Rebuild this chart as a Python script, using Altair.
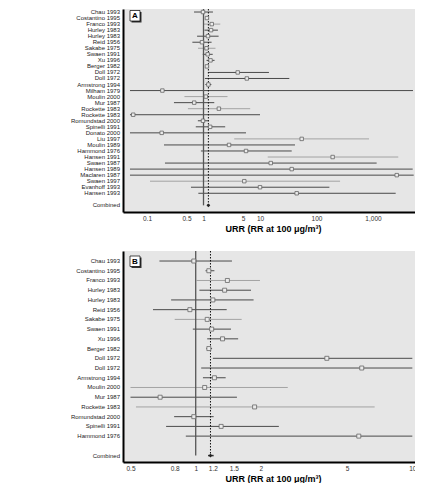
import altair as alt
import pandas as pd

# ---- data ----
names = ["Chau 1993", "Costantino 1995", "Franco 1993", "Hurley 1983", "Hurley 1983",
         "Reid 1956", "Sakabe 1975", "Swaen 1991", "Xu 1996", "Berger 1982",
         "Doll 1972", "Doll 1972", "Armstrong 1994", "Milham 1979", "Moulin 2000",
         "Mur 1987", "Rockette 1983", "Rockette 1983", "Romundstad 2000", "Spinelli 1991",
         "Donato 2000", "Liu 1997", "Moulin 1989", "Hammond 1976", "Hansen 1991",
         "Swaen 1987", "Hansen 1989", "Maclaren 1987", "Swaen 1997", "Evanhoff 1993",
         "Hansen 1993"]
est = [0.98, 1.15, 1.40, 1.36, 1.20, 0.94, 1.13, 1.185, 1.33, 1.15,
       4.03, 5.84, 1.22, 0.187, 1.10, 0.685, 1.87, 0.057, 0.98, 1.31,
       0.182, 54.7, 2.83, 5.66, 193, 15.5, 36.4, 2630, 5.27, 10.0, 44.6]
lo = [0.68, 1.11, 1.01, 1.04, 0.77, 0.635, 0.80, 0.97, 1.13, 1.12,
      1.20, 1.06, 1.08, 0.05, 0.46, 0.30, 0.53, 0.05, 0.795, 0.73,
      0.05, 3.5, 0.20, 0.90, 13.7, 0.208, 0.05, 0.05, 0.113, 0.60, 0.81]
hi = [1.47, 1.22, 1.98, 1.80, 1.85, 1.39, 1.63, 1.455, 1.57, 1.19,
      14.4, 33.0, 1.375, 5100, 2.66, 1.55, 6.7, 10.0, 1.21, 2.42,
      5.65, 850, 41.6, 36.4, 2800, 1160, 5040, 5250, 261, 169, 2520]
tone = ["dark", "dark", "light", "dark", "dark", "dark", "light", "dark", "dark", "dark",
        "dark", "dark", "dark", "dark", "light", "dark", "light", "dark", "dark", "dark",
        "dark", "light", "dark", "dark", "light", "dark", "dark", "dark", "light", "dark",
        "dark"]
in_b = [1, 1, 1, 1, 1, 1, 1, 1, 1, 1, 1, 1, 1, 0, 1, 1, 1, 0, 1, 1,
        0, 0, 0, 1, 0, 0, 0, 0, 0, 0, 0]

combined_a = [1.22, 1.17, 1.27]
combined_b = [1.17, 1.14, 1.21]

ticks_a = [0.1, 0.5, 1, 5, 10, 100, 1000]
ticks_b = [0.5, 0.8, 1, 1.2, 1.5, 2, 5, 10]

FONT = "Liberation Sans, Arial, sans-serif"
TITLE = "URR (RR at 100 \u03bcg/m\u00b3)"


def panel(nm, es, lw, hg, tn, comb, ticks, xdom, ydom, w, h, letter, box_y, clip, sq, bound):
    n = len(nm)
    df = pd.DataFrame({"name": nm, "est": es, "lo": lw, "hi": hg, "tone": tn,
                       "row": list(range(n))})
    cdf = pd.DataFrame({"name": ["Combined"], "est": [comb[0]], "lo": [comb[1]],
                        "hi": [comb[2]], "row": [n + 1]})
    labdf = pd.concat([df[["name", "row"]], cdf[["name", "row"]]])
    refdf = pd.DataFrame({"v": [1.0, comb[0]], "row": [ydom[0], ydom[0]],
                          "bot": [n + 1, n + 1], "kind": ["null", "pooled"]})

    xs = alt.Scale(type="log", domain=xdom, nice=False)
    ys = alt.Scale(domain=ydom, reverse=True, nice=False, zero=False)
    xax = alt.Axis(values=ticks, format=",~g", labelFontSize=6.5, labelFont=FONT,
                   labelColor="#333", ticks=False, grid=False, domainColor="black",
                   domainWidth=2, labelPadding=3.5, labelOverlap=False, labelFlush=False,
                   title=TITLE, titleFont=FONT, titleFontSize=9, titleFontWeight="bold",
                   titleColor="black", titlePadding=2)
    yax = alt.Axis(labels=False, ticks=False, grid=False, domainColor="black",
                   domainWidth=2, title="")

    def X(f):
        return alt.X(f"{f}:Q", scale=xs, axis=xax)

    Y = alt.Y("row:Q", scale=ys, axis=yax)

    ci = alt.Chart(df).transform_calculate(
        lo_c=f"max(datum.lo, {clip[0]})", hi_c=f"min(datum.hi, {clip[1]})"
    ).mark_rule(strokeWidth=1).encode(
        x=X("lo_c"), x2="hi_c:Q", y=Y,
        color=alt.Color("tone:N", scale=alt.Scale(domain=["dark", "light"],
                                                  range=["#4a4a4a", "#a3a3a3"]),
                        legend=None))

    null_line = alt.Chart(refdf).transform_filter("datum.kind == 'null'").mark_rule(
        color="#555", strokeWidth=1.3).encode(x=X("v"), y=Y, y2="bot:Q")
    pooled_line = alt.Chart(refdf).transform_filter("datum.kind == 'pooled'").mark_rule(
        color="#111", strokeWidth=1, strokeDash=[1.5, 1.5]).encode(x=X("v"), y=Y, y2="bot:Q")

    pts = alt.Chart(df).mark_square(size=sq, fill="#ebebeb", stroke="#666",
                                     strokeWidth=0.8, opacity=1).encode(x=X("est"), y=Y)

    comb_ci = alt.Chart(cdf).mark_rule(color="#333", strokeWidth=1.5).encode(
        x=X("lo"), x2="hi:Q", y=Y)
    comb_pt = alt.Chart(cdf).mark_point(shape="diamond", filled=True, color="#222",
                                        size=14, opacity=1).encode(x=X("est"), y=Y)

    labels = alt.Chart(labdf).mark_text(align="right", baseline="middle", fontSize=6,
                                        font=FONT, fill="#222").encode(
        x=alt.value(-3), y=Y, text="name:N")

    tdf = pd.DataFrame({"t": [letter]})
    shadow = alt.Chart(tdf).mark_rect(fill="#333").encode(
        x=alt.value(8.5), x2=alt.value(18.5), y=alt.value(box_y + 1.5),
        y2=alt.value(box_y + 12))
    box = alt.Chart(tdf).mark_rect(fill="white", stroke="black", strokeWidth=0.7).encode(
        x=alt.value(7), x2=alt.value(17), y=alt.value(box_y), y2=alt.value(box_y + 10.5))
    let = alt.Chart(tdf).mark_text(fontWeight="bold", fontSize=8, font=FONT,
                                   fill="black").encode(
        x=alt.value(12), y=alt.value(box_y + 5.5), text="t:N")

    layers = [ci, null_line, pooled_line, pts, comb_ci, comb_pt, labels, shadow, box, let]
    if bound:
        layers.append(alt.Chart(tdf).mark_rule(strokeOpacity=0).encode(
            x=alt.value(-115), x2=alt.value(-114), y=alt.value(5)))
    return alt.layer(*layers).properties(width=w, height=h)


chart_a = panel(names, est, lo, hi, tone, combined_a, ticks_a,
                [0.0376, 7670], [-0.5, 33.1], 300, 203, "A", 1.5, (0.0376, 7670), 12, True)

sel = [i for i, f in enumerate(in_b) if f]
chart_b = panel([names[i] for i in sel], [est[i] for i in sel], [lo[i] for i in sel],
                [hi[i] for i in sel], [tone[i] for i in sel], combined_b, ticks_b,
                [0.4617, 11.2], [-1.03, 20.66], 300, 211, "B", 5, (0.5, 10), 16, True)

chart = alt.vconcat(chart_a, chart_b, spacing=39).properties(
    padding={"left": 0, "top": 0, "right": -8, "bottom": 0},
    bounds="flush",
).configure_view(fill="#e6e6e6", strokeWidth=0)

chart.save("out.html", embed_options={"renderer": "svg", "actions": False})
